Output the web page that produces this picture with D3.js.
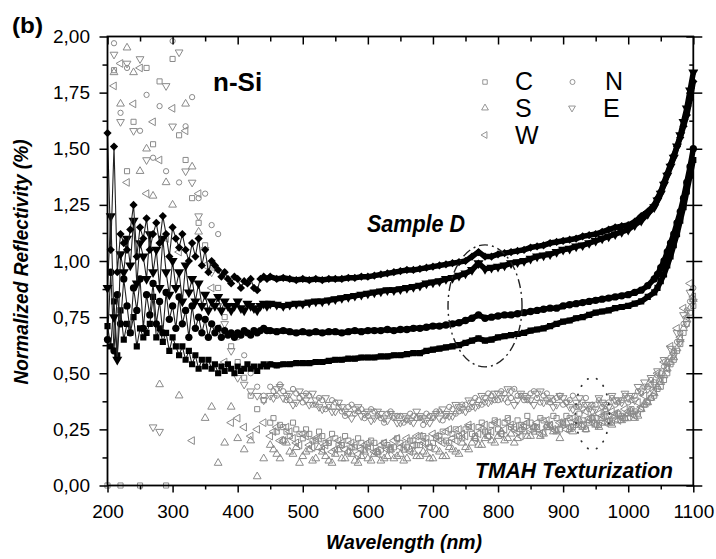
<!DOCTYPE html>
<html><head><meta charset="utf-8">
<script src="https://cdn.jsdelivr.net/npm/d3@7"></script>
<style>body{margin:0;background:#fff}text{font-family:'Liberation Sans',Arial,sans-serif}</style>
</head><body><svg id="c" width="716" height="559"></svg>
<script>
// ---------- DATA ----------
const xTickValues = [200,300,400,500,600,700,800,900,1000,1100];
const xTickLabels = ["200","300","400","500","600","700","800","900","1000","1100"];
const yTickValues = [0,0.25,0.5,0.75,1,1.25,1.5,1.75,2];
const yTickLabels = ["0,00","0,25","0,50","0,75","1,00","1,25","1,50","1,75","2,00"];

// Sample D (black, filled symbols): wavelengths
const wlBlack = [...d3.range(200, 450, 5), ...d3.range(450, 1040, 10), ...d3.range(1040, 1101, 5)];
const sampleD_top = [
 1.57,1.05,1.51,0.95,1.12,1.08,1.05,1.14,1.25,1.02,
 1.15,1.10,1.19,1.05,1.12,1.17,1.08,1.20,1.12,1.02,
 1.15,1.10,1.06,1.12,1.05,1.00,1.08,1.02,1.10,0.98,
 1.05,0.95,1.00,0.98,0.96,0.93,0.95,0.92,0.90,0.93,
 0.92,0.88,0.91,0.90,0.92,0.88,0.87,0.92,0.93,0.92,
 0.93,0.92,0.925,0.92,0.915,0.92,0.915,0.92,0.915,0.92,
 0.92,0.92,0.925,0.925,0.93,0.93,0.935,0.94,0.945,0.95,
 0.955,0.96,0.96,0.965,0.97,0.975,0.98,0.985,0.99,0.995,
 1.00,1.02,1.04,1.02,1.02,1.03,1.035,1.04,1.045,1.05,
 1.06,1.065,1.07,1.08,1.085,1.09,1.095,1.10,1.11,1.115,
 1.12,1.13,1.14,1.15,1.155,1.16,1.175,1.20,1.22,
 1.25,1.28,1.31,1.35,1.39,1.43,1.47,1.51,1.55,1.60,1.65,1.72,1.80];
const sampleD_second = [
 0.88,1.20,0.75,0.56,1.03,0.95,1.10,0.98,1.18,0.90,
 1.08,1.02,0.92,1.12,0.95,1.05,0.88,1.10,0.95,0.85,
 1.00,0.88,0.95,0.82,0.98,0.86,0.92,0.82,0.90,0.80,
 0.85,0.78,0.82,0.80,0.84,0.78,0.82,0.80,0.78,0.80,
 0.82,0.79,0.78,0.81,0.80,0.79,0.78,0.80,0.81,0.80,
 0.81,0.805,0.80,0.805,0.81,0.81,0.815,0.82,0.82,0.825,
 0.83,0.835,0.84,0.845,0.85,0.855,0.86,0.865,0.87,0.87,
 0.875,0.88,0.885,0.89,0.90,0.905,0.91,0.92,0.925,0.935,
 0.945,0.96,0.99,0.965,0.97,0.975,0.98,0.99,0.995,1.00,
 1.01,1.02,1.025,1.03,1.04,1.05,1.055,1.065,1.07,1.08,
 1.09,1.10,1.11,1.12,1.13,1.14,1.16,1.18,1.21,
 1.24,1.27,1.30,1.34,1.38,1.42,1.46,1.51,1.56,1.62,1.68,1.76,1.84];
const sampleD_third = [
 0.65,0.95,0.60,0.85,0.72,0.92,0.80,0.68,0.88,0.78,
 0.92,0.70,0.85,0.76,0.90,0.72,0.82,0.68,0.86,0.74,
 0.80,0.70,0.84,0.72,0.78,0.66,0.80,0.70,0.75,0.68,
 0.74,0.66,0.72,0.68,0.70,0.66,0.69,0.67,0.68,0.66,
 0.68,0.67,0.69,0.68,0.67,0.69,0.68,0.69,0.70,0.69,
 0.69,0.685,0.69,0.685,0.68,0.685,0.68,0.685,0.68,0.685,
 0.685,0.68,0.685,0.69,0.685,0.69,0.69,0.69,0.695,0.69,
 0.695,0.695,0.70,0.70,0.705,0.71,0.71,0.715,0.72,0.725,
 0.735,0.745,0.76,0.745,0.75,0.755,0.76,0.76,0.765,0.77,
 0.775,0.78,0.785,0.79,0.79,0.80,0.805,0.81,0.815,0.82,
 0.825,0.83,0.835,0.84,0.845,0.85,0.86,0.87,0.89,
 0.92,0.94,0.97,1.00,1.04,1.08,1.12,1.17,1.22,1.28,1.35,1.42,1.50];
const sampleD_fourth = [
 0.71,0.62,0.82,0.58,0.78,0.65,0.72,0.68,0.75,0.62,
 0.70,0.66,0.68,0.72,0.84,0.66,0.70,0.64,0.68,0.60,
 0.66,0.62,0.58,0.62,0.56,0.60,0.54,0.58,0.52,0.56,
 0.53,0.56,0.52,0.54,0.50,0.53,0.51,0.54,0.52,0.50,
 0.53,0.51,0.52,0.54,0.52,0.53,0.51,0.53,0.54,0.53,
 0.54,0.535,0.54,0.54,0.545,0.545,0.545,0.55,0.55,0.555,
 0.56,0.56,0.565,0.565,0.57,0.57,0.57,0.575,0.575,0.58,
 0.58,0.585,0.59,0.59,0.60,0.605,0.61,0.615,0.62,0.625,
 0.635,0.645,0.655,0.645,0.65,0.66,0.665,0.67,0.675,0.68,
 0.69,0.695,0.70,0.71,0.72,0.73,0.735,0.745,0.75,0.76,
 0.77,0.775,0.78,0.79,0.795,0.80,0.81,0.82,0.84,
 0.86,0.88,0.91,0.94,0.98,1.02,1.07,1.12,1.18,1.24,1.31,1.38,1.45];

// TMAH texturization (grey, open symbols), 200..1100 nm every 10 nm
const wlTMAH = d3.range(200, 1101, 10);
const tmahC = [
 0.00,1.85,0.00,1.40,1.62,0.00,1.86,1.52,1.80,0.00,
 1.90,1.56,1.45,1.28,1.17,1.07,0.98,0.88,0.75,0.62,
 0.55,0.48,0.40,0.34,0.38,0.28,0.24,0.26,0.22,0.25,
 0.21,0.23,0.20,0.22,0.19,0.21,0.18,0.20,0.17,0.19,
 0.17,0.19,0.16,0.18,0.17,0.19,0.17,0.20,0.18,0.21,
 0.19,0.22,0.20,0.23,0.22,0.25,0.23,0.26,0.24,0.27,
 0.25,0.28,0.26,0.29,0.26,0.28,0.26,0.29,0.27,0.30,
 0.28,0.30,0.27,0.29,0.28,0.30,0.28,0.31,0.29,0.31,
 0.30,0.33,0.34,0.37,0.40,0.44,0.50,0.56,0.63,0.72,
 0.80];
const tmahN = [
 2.10,1.97,1.66,1.86,2.20,1.58,1.74,1.46,1.69,1.40,
 1.98,1.35,1.60,1.73,1.28,1.30,1.16,1.12,0.95,0.80,
 0.66,0.58,0.50,0.44,0.40,0.44,0.40,0.42,0.38,0.41,
 0.37,0.40,0.36,0.38,0.35,0.37,0.33,0.35,0.32,0.34,
 0.31,0.33,0.30,0.32,0.30,0.31,0.29,0.31,0.30,0.32,
 0.30,0.33,0.31,0.34,0.33,0.36,0.35,0.38,0.37,0.40,
 0.38,0.41,0.39,0.40,0.38,0.41,0.39,0.40,0.37,0.39,
 0.36,0.38,0.35,0.37,0.34,0.36,0.35,0.37,0.36,0.38,
 0.37,0.40,0.41,0.44,0.46,0.50,0.55,0.60,0.68,0.78,
 0.88];
const tmahS = [
 2.30,1.84,1.70,1.95,1.84,1.40,1.50,1.29,0.45,1.35,
 1.25,0.40,1.70,1.42,1.13,0.30,0.35,0.10,0.19,0.35,
 0.21,0.16,0.20,0.04,0.12,0.18,0.14,0.20,0.15,0.17,
 0.13,0.16,0.12,0.15,0.11,0.14,0.12,0.15,0.11,0.13,
 0.12,0.14,0.11,0.13,0.12,0.14,0.12,0.15,0.13,0.14,
 0.12,0.15,0.13,0.16,0.14,0.17,0.19,0.18,0.21,0.20,
 0.22,0.20,0.23,0.21,0.24,0.22,0.25,0.23,0.26,0.24,
 0.27,0.25,0.28,0.26,0.29,0.27,0.30,0.28,0.31,0.29,
 0.32,0.30,0.34,0.37,0.41,0.46,0.52,0.57,0.65,0.74,
 0.83];
const tmahE = [
 2.20,1.92,1.62,1.88,1.58,1.90,1.45,0.26,0.24,1.78,
 1.60,1.93,1.40,1.35,1.20,1.05,0.95,0.80,0.72,0.60,
 0.48,0.45,0.42,0.40,0.38,0.40,0.43,0.39,0.41,0.37,
 0.40,0.36,0.38,0.34,0.36,0.33,0.35,0.32,0.34,0.31,
 0.33,0.30,0.32,0.29,0.31,0.28,0.30,0.28,0.31,0.29,
 0.31,0.30,0.32,0.31,0.35,0.33,0.37,0.36,0.39,0.38,
 0.41,0.39,0.42,0.38,0.40,0.38,0.41,0.37,0.39,0.36,
 0.39,0.35,0.37,0.34,0.36,0.34,0.37,0.35,0.38,0.37,
 0.39,0.38,0.42,0.43,0.45,0.48,0.53,0.58,0.64,0.72,
 0.82];
const tmahW = [
 2.10,1.78,1.88,1.35,1.70,1.86,1.30,1.62,1.45,1.10,
 1.68,1.04,1.58,0.20,1.30,0.98,0.88,0.70,0.55,0.28,
 0.30,0.26,0.22,0.25,0.28,0.22,0.26,0.20,0.24,0.19,
 0.23,0.18,0.21,0.16,0.20,0.16,0.19,0.15,0.18,0.16,
 0.19,0.15,0.18,0.16,0.20,0.17,0.21,0.18,0.22,0.19,
 0.23,0.20,0.24,0.21,0.25,0.22,0.26,0.23,0.27,0.24,
 0.28,0.25,0.27,0.24,0.27,0.25,0.28,0.24,0.27,0.25,
 0.28,0.26,0.29,0.27,0.30,0.27,0.31,0.29,0.32,0.30,
 0.33,0.31,0.35,0.38,0.42,0.47,0.52,0.59,0.66,0.75,
 0.84];
// intermediate readings, 455..1095 nm every 10 nm
const wlTMAH2 = d3.range(455, 1100, 10);
const tmahC2 = [
 0.30,0.27,0.24,0.28,0.23, 0.25,0.20,0.24,0.19,0.23,
 0.18,0.22,0.17,0.21,0.16, 0.20,0.15,0.19,0.17,0.21,
 0.16,0.20,0.18,0.22,0.17, 0.21,0.24,0.19,0.25,0.21,
 0.26,0.22,0.28,0.24,0.29, 0.23,0.30,0.25,0.27,0.31,
 0.24,0.30,0.26,0.31,0.25, 0.31,0.26,0.32,0.25,0.30,
 0.27,0.33,0.28,0.32,0.30, 0.34,0.32,0.36,0.39,0.43,
 0.47,0.54,0.60,0.68,0.77];
const tmahN2 = [
 0.42,0.45,0.38,0.43,0.39, 0.41,0.36,0.39,0.34,0.38,
 0.35,0.31,0.36,0.33,0.30, 0.34,0.31,0.28,0.33,0.31,
 0.28,0.32,0.30,0.27,0.31, 0.33,0.29,0.35,0.32,0.36,
 0.34,0.39,0.36,0.41,0.38, 0.42,0.37,0.43,0.40,0.38,
 0.42,0.37,0.41,0.38,0.40, 0.37,0.40,0.35,0.39,0.36,
 0.38,0.34,0.39,0.37,0.40, 0.38,0.42,0.44,0.47,0.49,
 0.53,0.57,0.64,0.72,0.82];
const tmahS2 = [
 0.16,0.12,0.19,0.14,0.10, 0.15,0.11,0.17,0.13,0.10,
 0.16,0.12,0.14,0.10,0.15, 0.11,0.15,0.12,0.16,0.13,
 0.11,0.16,0.13,0.15,0.12, 0.16,0.13,0.17,0.15,0.19,
 0.16,0.21,0.18,0.22,0.19, 0.24,0.21,0.19,0.25,0.22,
 0.26,0.22,0.27,0.24,0.21, 0.28,0.24,0.29,0.25,0.30,
 0.26,0.31,0.27,0.32,0.30, 0.33,0.31,0.36,0.39,0.44,
 0.49,0.55,0.61,0.70,0.79];
const tmahE2 = [
 0.39,0.44,0.40,0.36,0.42, 0.38,0.41,0.35,0.39,0.33,
 0.37,0.33,0.30,0.35,0.32, 0.29,0.33,0.30,0.32,0.28,
 0.31,0.29,0.33,0.30,0.28, 0.32,0.34,0.31,0.36,0.34,
 0.38,0.35,0.40,0.37,0.41, 0.39,0.43,0.36,0.41,0.39,
 0.36,0.42,0.38,0.35,0.40, 0.37,0.34,0.39,0.36,0.33,
 0.39,0.36,0.40,0.38,0.41, 0.40,0.44,0.46,0.48,0.51,
 0.56,0.61,0.68,0.76,0.86];
const tmahW2 = [
 0.24,0.20,0.26,0.21,0.18, 0.22,0.17,0.21,0.18,0.15,
 0.20,0.16,0.19,0.14,0.18, 0.17,0.14,0.19,0.16,0.21,
 0.18,0.15,0.22,0.19,0.17, 0.22,0.19,0.25,0.20,0.23,
 0.27,0.21,0.25,0.22,0.28, 0.23,0.29,0.26,0.22,0.28,
 0.26,0.23,0.29,0.25,0.28, 0.25,0.30,0.27,0.33,0.28,
 0.32,0.28,0.33,0.29,0.34, 0.32,0.37,0.40,0.45,0.50,
 0.55,0.62,0.70,0.79,0.90];
const legendLabels = ["C","N","S","E","W"];

// ---------- DRAW ----------
const svg = d3.select("#c");
svg.append("rect").attr("width",716).attr("height",559).attr("fill","#fff");
const L = 107.5, R = 693.3, T = 36.5, B = 485.5;
const x = d3.scaleLinear().domain([200,1100]).range([L,R]);
const y = d3.scaleLinear().domain([0,2]).range([B,T]);

svg.append("clipPath").attr("id","clp").append("rect")
  .attr("x",L-5).attr("y",T).attr("width",R-L+10).attr("height",B-T+5);

const sym = {
  square: {type:d3.symbolSquare, rot:0},
  circle: {type:d3.symbolCircle, rot:0},
  triUp: {type:d3.symbolTriangle, rot:0},
  triDown: {type:d3.symbolTriangle, rot:180},
  triLeft: {type:d3.symbolTriangle, rot:-90},
  diamond: {type:d3.symbolSquare, rot:45}
};

const tmahSeries = [
  {name:"C", vals:tmahC, vals2:tmahC2, s:"square"},
  {name:"N", vals:tmahN, vals2:tmahN2, s:"circle"},
  {name:"S", vals:tmahS, vals2:tmahS2, s:"triUp"},
  {name:"E", vals:tmahE, vals2:tmahE2, s:"triDown"},
  {name:"W", vals:tmahW, vals2:tmahW2, s:"triLeft"}
];
const plot = svg.append("g").attr("clip-path","url(#clp)");
const grey = "#8a8a8a";
tmahSeries.forEach(sr => {
  const pts = wlTMAH.map((w,i)=>[w, sr.vals[i]])
    .concat(wlTMAH2.map((w,i)=>[w, sr.vals2[i]]))
    .filter(d=>d[1]<=2.0);
  plot.append("g").selectAll("path").data(pts).join("path")
    .attr("d", d3.symbol().type(sym[sr.s].type).size(sr.s==="circle"?22:26))
    .attr("transform", d=>`translate(${x(d[0])},${y(d[1])}) rotate(${sym[sr.s].rot})`)
    .attr("fill","none").attr("stroke",grey).attr("stroke-width",1);
});

const blackSeries = [
  {vals:sampleD_fourth, s:"square", size:38},
  {vals:sampleD_third, s:"circle", size:42},
  {vals:sampleD_second, s:"triDown", size:44},
  {vals:sampleD_top, s:"diamond", size:34}
];
const line = d3.line().x(d=>x(d[0])).y(d=>y(d[1]));
blackSeries.forEach(sr => {
  const pts = wlBlack.map((w,i)=>[w, sr.vals[i]]);
  plot.append("path").datum(pts).attr("d",line).attr("fill","none")
    .attr("stroke","#222").attr("stroke-width",1.1);
  plot.append("path").datum(pts.filter(d=>d[0]>=445)).attr("d",line).attr("fill","none")
    .attr("stroke","#000").attr("stroke-width",5.5);
  plot.append("g").selectAll("path").data(pts).join("path")
    .attr("d", d3.symbol().type(sym[sr.s].type).size(sr.size))
    .attr("transform", d=>`translate(${x(d[0])},${y(d[1])}) rotate(${sym[sr.s].rot})`)
    .attr("fill","#000");
});

// Ellipses
svg.append("ellipse").attr("cx",x(780)).attr("cy",y(0.8)).attr("rx",37).attr("ry",61)
  .attr("fill","none").attr("stroke","#222").attr("stroke-width",1.4)
  .attr("stroke-dasharray","9,4,2,4");
svg.append("ellipse").attr("cx",x(945)).attr("cy",y(0.32)).attr("rx",17).attr("ry",36)
  .attr("fill","none").attr("stroke","#333").attr("stroke-width",1.8)
  .attr("stroke-linecap","round").attr("stroke-dasharray","0.5,9");

// Axes
const yMinor = d3.range(0.125, 2, 0.25);
const xMinor = d3.range(250, 1100, 100);
function clean(g){ g.select(".domain").remove(); g.selectAll("line").attr("stroke","#000").attr("stroke-width",1.5); }
const tickFont = "19px 'Liberation Sans', Arial, sans-serif";

svg.append("g").attr("transform",`translate(${L},0)`)
  .call(d3.axisLeft(y).tickValues(yTickValues).tickSize(8).tickPadding(9.5)
    .tickFormat((d,i)=>yTickLabels[i]))
  .call(clean).call(g=>g.selectAll("text").style("font",tickFont).attr("fill","#000"));
svg.append("g").attr("transform",`translate(${L},0)`)
  .call(d3.axisLeft(y).tickValues(yMinor).tickSize(5).tickFormat(""))
  .call(clean);

svg.append("g").attr("transform",`translate(0,${B})`)
  .call(d3.axisBottom(x).tickValues(xTickValues).tickSize(7).tickPadding(12)
    .tickFormat((d,i)=>xTickLabels[i]))
  .call(clean).call(g=>g.selectAll("text").style("font",tickFont).attr("fill","#000"));
svg.append("g").attr("transform",`translate(0,${B})`)
  .call(d3.axisBottom(x).tickValues(xMinor).tickSize(4).tickFormat(""))
  .call(clean);

// top (inward)
svg.append("g").attr("transform",`translate(0,${T})`)
  .call(d3.axisBottom(x).tickValues(xTickValues).tickSize(8).tickFormat(""))
  .call(clean);
svg.append("g").attr("transform",`translate(0,${T})`)
  .call(d3.axisBottom(x).tickValues(xMinor).tickSize(5).tickFormat(""))
  .call(clean);
// right (crossing majors, inward minors)
svg.append("g").attr("transform",`translate(${R},0)`)
  .call(d3.axisLeft(y).tickValues(yTickValues).tickSize(7).tickFormat(""))
  .call(clean);
svg.append("g").attr("transform",`translate(${R},0)`)
  .call(d3.axisRight(y).tickValues(yTickValues).tickSize(9).tickFormat(""))
  .call(clean);
svg.append("g").attr("transform",`translate(${R},0)`)
  .call(d3.axisLeft(y).tickValues(yMinor).tickSize(4).tickFormat(""))
  .call(clean);

svg.append("rect").attr("x",L).attr("y",T).attr("width",R-L).attr("height",B-T)
  .attr("fill","none").attr("stroke","#000").attr("stroke-width",1.8);

// Titles & annotations
const bi = "italic bold";
svg.append("text").attr("x",404).attr("y",549).attr("text-anchor","middle")
  .attr("textLength",156).attr("lengthAdjust","spacingAndGlyphs")
  .style("font",`${bi} 21px 'Liberation Sans', Arial, sans-serif`).text("Wavelength (nm)");
svg.append("text").attr("transform","translate(28,262) rotate(-90)").attr("text-anchor","middle")
  .attr("textLength",245).attr("lengthAdjust","spacingAndGlyphs")
  .style("font",`${bi} 21px 'Liberation Sans', Arial, sans-serif`).text("Normalized Reflectivity (%)");
svg.append("text").attr("x",12).attr("y",33).attr("textLength",31).attr("lengthAdjust","spacingAndGlyphs")
  .style("font","bold 22px 'Liberation Sans', Arial, sans-serif").text("(b)");
svg.append("text").attr("x",213).attr("y",91)
  .style("font","bold 26px 'Liberation Sans', Arial, sans-serif").text("n-Si");
svg.append("text").attr("x",367).attr("y",232).attr("textLength",98).attr("lengthAdjust","spacingAndGlyphs")
  .style("font",`${bi} 24px 'Liberation Sans', Arial, sans-serif`).text("Sample D");
svg.append("text").attr("x",475).attr("y",478).attr("textLength",198).attr("lengthAdjust","spacingAndGlyphs")
  .style("font",`${bi} 22px 'Liberation Sans', Arial, sans-serif`).text("TMAH Texturization");

// Legend
const legPos = {C:[485,82,515,90], N:[572.5,82,605,90], S:[485,108,515,117], E:[572,108,603,117], W:[485,135,515,143.5]};
const lg = svg.append("g");
tmahSeries.forEach(sr => {
  const p = legPos[sr.name];
  lg.append("path").attr("d", d3.symbol().type(sym[sr.s].type).size(20))
    .attr("transform",`translate(${p[0]},${p[1]}) rotate(${sym[sr.s].rot})`)
    .attr("fill","none").attr("stroke",grey).attr("stroke-width",0.9);
  lg.append("text").attr("x",p[2]).attr("y",p[3])
    .style("font","25px 'Liberation Sans', Arial, sans-serif").text(legendLabels[legendLabels.indexOf(sr.name)]);
});
</script></body></html>
